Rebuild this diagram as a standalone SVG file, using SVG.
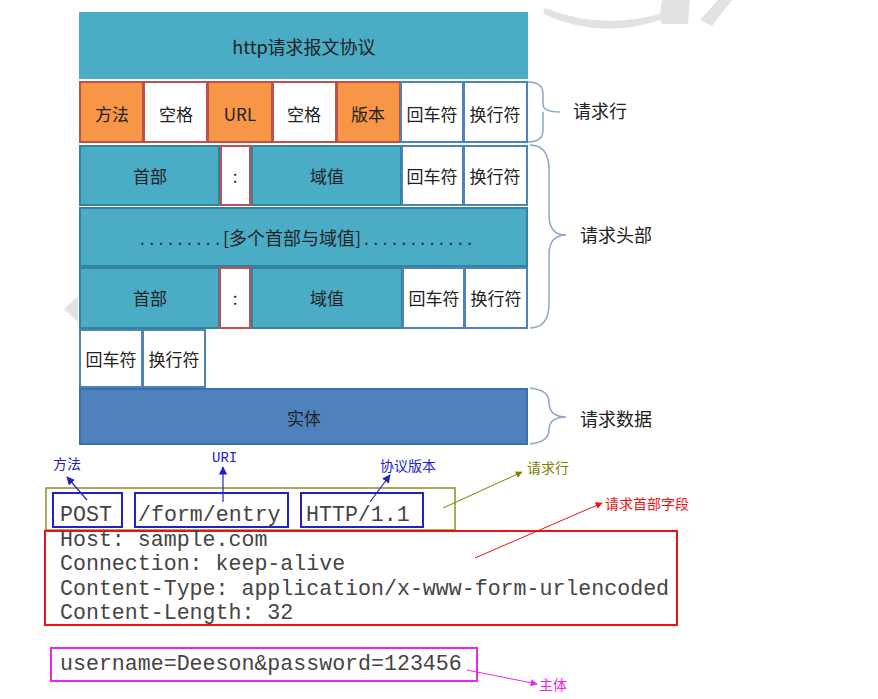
<svg xmlns="http://www.w3.org/2000/svg" width="878" height="699" viewBox="0 0 878 699">
<style>
.teal{fill:#4bacc6;stroke:#31849b;stroke-width:2}
.org{fill:#f79646;stroke:#c0504d;stroke-width:2}
.wr{fill:#ffffff;stroke:#c0504d;stroke-width:2}
.wb{fill:#ffffff;stroke:#4f81bd;stroke-width:2}
.cell{font-family:"Noto Sans CJK SC","Liberation Sans",sans-serif;font-size:17px;fill:#222;text-anchor:middle;dominant-baseline:central}
.lab{font-family:"Noto Sans CJK SC","Liberation Sans",sans-serif;font-size:18px;fill:#222;dominant-baseline:central}
.brace{fill:none;stroke:#8ea6c8;stroke-width:1.5}
.code{font-family:"Liberation Mono",monospace;font-size:21.6px;fill:#444}
.ann{font-family:"Noto Sans CJK SC","Liberation Sans",sans-serif;font-size:14px;dominant-baseline:central}
</style>
<defs>
<marker id="ab" viewBox="0 0 10 10" refX="9" refY="5" markerWidth="7" markerHeight="7" orient="auto"><path d="M0,0L10,5L0,10z" fill="#2222cc"/></marker>
<marker id="ao" viewBox="0 0 10 10" refX="9" refY="5" markerWidth="7" markerHeight="7" orient="auto"><path d="M0,0L10,5L0,10z" fill="#808000"/></marker>
<marker id="ar" viewBox="0 0 10 10" refX="9" refY="5" markerWidth="7" markerHeight="7" orient="auto"><path d="M0,0L10,5L0,10z" fill="#ee1111"/></marker>
<marker id="am" viewBox="0 0 10 10" refX="9" refY="5" markerWidth="7" markerHeight="7" orient="auto"><path d="M0,0L10,5L0,10z" fill="#ee22ee"/></marker>
</defs>
<rect width="878" height="699" fill="#ffffff"/>
<g id="watermark" fill="#e2e2e2">
<path d="M545,8 Q600,30 660,14 L662,0 L690,0 L688,24 L662,24 L660,20 Q600,40 543,14 z"/>
<path d="M700,20 L718,0 L732,0 L712,26 z"/>
<path d="M64,309 L78,296 L78,322 z"/>
</g>
<g id="header"><rect x="79" y="12" width="449" height="67" fill="#4bacc6"/><text class="cell" x="304" y="46" style="font-size:18px">http请求报文协议</text></g>
<g id="row-request-line">
<rect class="org" x="80" y="82" width="63" height="60"/><text class="cell" x="112" y="113">方法</text>
<rect class="wr" x="144" y="82" width="63" height="60"/><text class="cell" x="176" y="113">空格</text>
<rect class="org" x="208" y="82" width="64" height="60"/><text class="cell" x="240" y="113">URL</text>
<rect class="wr" x="273" y="82" width="63" height="60"/><text class="cell" x="304" y="113">空格</text>
<rect class="org" x="337" y="82" width="63" height="60"/><text class="cell" x="368" y="113">版本</text>
<rect class="wb" x="401" y="82" width="62" height="60"/><text class="cell" x="432" y="113">回车符</text>
<rect class="wb" x="464" y="82" width="63" height="60"/><text class="cell" x="495" y="113">换行符</text>
</g>
<g id="row-header-1">
<rect class="teal" x="80" y="146" width="139" height="59"/><text class="cell" x="150" y="175">首部</text>
<rect class="wr" x="221" y="146" width="29" height="59"/><text class="cell" x="235" y="175">:</text>
<rect class="teal" x="252" y="146" width="149" height="59"/><text class="cell" x="327" y="175">域值</text>
<rect class="wb" x="402" y="146" width="61" height="59"/><text class="cell" x="432" y="175">回车符</text>
<rect class="wb" x="464" y="146" width="63" height="59"/><text class="cell" x="495" y="175">换行符</text>
</g>
<g id="row-headers-more">
<rect class="teal" x="80" y="208" width="447" height="58"/>
<text class="cell" x="140" y="237" style="text-anchor:start" textLength="80" lengthAdjust="spacing">.........</text>
<text class="cell" x="292" y="237" style="font-size:18px">[多个首部与域值]</text>
<text class="cell" x="364" y="237" style="text-anchor:start" textLength="108" lengthAdjust="spacing">............</text>
</g>
<g id="row-header-2">
<rect class="teal" x="80" y="268" width="139" height="60"/><text class="cell" x="150" y="297">首部</text>
<rect class="wr" x="220" y="268" width="30" height="60"/><text class="cell" x="235" y="297">:</text>
<rect class="teal" x="252" y="268" width="150" height="60"/><text class="cell" x="327" y="297">域值</text>
<rect class="wb" x="403" y="268" width="61" height="60"/><text class="cell" x="434" y="297">回车符</text>
<rect class="wb" x="465" y="268" width="62" height="60"/><text class="cell" x="496" y="297">换行符</text>
</g>
<g id="row-crlf">
<rect class="wb" x="80" y="330" width="62" height="57"/><text class="cell" x="111" y="358">回车符</text>
<rect class="wb" x="143" y="330" width="62" height="57"/><text class="cell" x="174" y="358">换行符</text>
</g>
<g id="row-entity">
<rect x="80" y="389" width="447" height="55" fill="#4f81bd" stroke="#3f6fa8" stroke-width="2"/><text class="cell" x="304" y="417">实体</text>
</g>
<g id="brace-line"><path class="brace" d="M528,82 Q543,82 543,94 L543,104 Q543,112 560,112 M543,112 Q543,112 543,120 L543,130 Q543,142 528,142"/><text class="lab" x="573" y="110">请求行</text></g>
<g id="brace-headers"><path class="brace" d="M530,145 Q549,145 549,170 L549,215 Q549,235 566,235 Q549,235 549,255 L549,303 Q549,328 530,328"/><text class="lab" x="580" y="234">请求头部</text></g>
<g id="brace-data"><path class="brace" d="M530,388 Q549,390 549,402 Q549,417 566,417 Q549,417 549,430 Q549,442 530,444"/><text class="lab" x="580" y="418">请求数据</text></g>
<g id="request-line-box">
<rect x="46" y="488" width="409" height="42" fill="none" stroke="#8f8f1f" stroke-width="1.5"/>
<rect x="53" y="493" width="69" height="34" fill="none" stroke="#2222cc" stroke-width="2"/>
<rect x="135" y="493" width="153" height="34" fill="none" stroke="#2222cc" stroke-width="2"/>
<rect x="301" y="493" width="122" height="34" fill="none" stroke="#2222cc" stroke-width="2"/>
<text class="code" x="60" y="521">POST</text>
<text class="code" x="138" y="521">/form/entry</text>
<text class="code" x="306" y="521">HTTP/1.1</text>
</g>
<g id="header-box">
<rect x="45" y="531" width="632" height="94" fill="none" stroke="#ee1111" stroke-width="2"/>
<text class="code" x="60" y="546">Host: sample.com</text>
<text class="code" x="60" y="570">Connection: keep-alive</text>
<text class="code" x="60" y="595">Content-Type: application/x-www-form-urlencoded</text>
<text class="code" x="60" y="619">Content-Length: 32</text>
</g>
<g id="body-box">
<rect x="51" y="648" width="426" height="33" fill="none" stroke="#ee22ee" stroke-width="2"/>
<text class="code" x="60" y="670">username=Deeson&amp;password=123456</text>
</g>
<g id="labels">
<text class="ann" x="53" y="463" fill="#2222cc">方法</text>
<text class="ann" x="212" y="458" fill="#2222cc" style="font-family:'Liberation Mono',monospace">URI</text>
<text class="ann" x="380" y="465" fill="#2222cc">协议版本</text>
<text class="ann" x="527" y="467" fill="#808000">请求行</text>
<text class="ann" x="605" y="503" fill="#ee1111">请求首部字段</text>
<text class="ann" x="539" y="684" fill="#ee22ee">主体</text>
</g>
<g id="connectors">
<line x1="87" y1="500" x2="67" y2="477" stroke="#2222cc" stroke-width="1.2" marker-end="url(#ab)"/>
<line x1="223" y1="502" x2="223" y2="467" stroke="#2222cc" stroke-width="1.2" marker-end="url(#ab)"/>
<line x1="370" y1="502" x2="390" y2="475" stroke="#2222cc" stroke-width="1.2" marker-end="url(#ab)"/>
<line x1="443" y1="508" x2="522" y2="472" stroke="#808000" stroke-width="1" marker-end="url(#ao)"/>
<line x1="475" y1="558" x2="602" y2="503" stroke="#ee1111" stroke-width="1" marker-end="url(#ar)"/>
<line x1="467" y1="670" x2="537" y2="684" stroke="#ee22ee" stroke-width="1" marker-end="url(#am)"/>
</g>
</svg>
